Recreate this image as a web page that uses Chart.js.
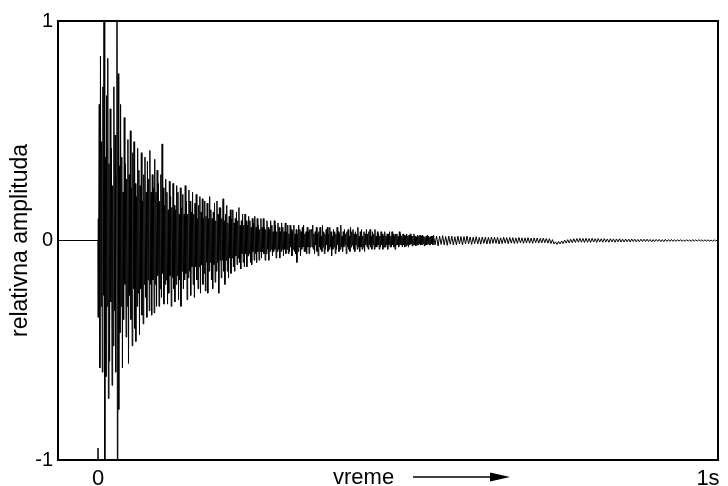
<!DOCTYPE html>
<html>
<head>
<meta charset="utf-8">
<script src="https://cdn.jsdelivr.net/npm/chart.js@4/dist/chart.umd.min.js"></script>
<style>
  html, body { margin: 0; padding: 0; background: #fff; }
  canvas { display: block; }
</style>
</head>
<body>
<canvas id="myChart" width="728" height="486"></canvas>
<script>
// time axis (seconds)
var leadInStart = -0.0656;
var attackStart = 0, attackStep = 0.001;
var decayStart = 0.35, decayStep = 0.001;
var tailStart = 0.55, tailStep = 0.0025;
var xTickValues = [0, 1];
var xTickLabels = ['0', '1s'];
var yTickValues = [-1, 0, 1];
var yTickLabels = ['-1', '0', '1'];

// relative amplitude (spikes past 1 get clipped by the frame)
// 0 - 0.35 s, one value per ms
var attackSamples = [
  0.10, -0.35, 0.62, -0.58, 0.84, -0.30, 0.45, -0.60, 0.70, -0.25,
  2.5, -2.5, 0.38, -0.62, 0.66, -0.30, 0.83, -0.72, 0.35, -0.55,
  0.60, -0.28, 0.42, -0.66, 0.25, -0.48, 0.70, -0.32, 0.48, -0.60,
  0.30, 2.5, -2.5, 0.76, -0.77, 0.34, -0.42, 0.62, -0.30, 0.38,
  -0.58, 0.22, -0.36, 0.56, -0.20, 0.35, -0.44, 0.28, -0.30, 0.46,
  -0.56, 0.30, -0.25, 0.50, -0.36, 0.24, -0.48, 0.40, -0.22, 0.45,
  -0.40, 0.26, -0.46, 0.20, -0.30, 0.42, -0.24, 0.32, -0.43, 0.25,
  -0.22, 0.40, -0.34, 0.18, -0.38, 0.30, -0.20, 0.38, -0.26, 0.22,
  -0.35, 0.36, -0.18, 0.28, -0.32, 0.41, -0.20, 0.22, -0.34, 0.30,
  -0.18, 0.24, -0.33, 0.37, -0.20, 0.22, -0.30, 0.32, -0.16, 0.26,
  -0.30, 0.18, -0.22, 0.30, -0.26, 0.44, -0.15, 0.24, -0.29, 0.16,
  -0.20, 0.28, -0.18, 0.22, -0.29, 0.14, -0.24, 0.27, -0.16, 0.20,
  -0.30, 0.15, -0.17, 0.26, -0.22, 0.16, -0.28, 0.14, -0.20, 0.25,
  -0.16, 0.22, -0.27, 0.12, -0.18, 0.24, -0.30, 0.15, -0.14, 0.21,
  -0.22, 0.12, -0.18, 0.25, -0.15, 0.18, -0.27, 0.12, -0.17, 0.23,
  -0.14, 0.18, -0.25, 0.13, -0.12, 0.22, -0.20, 0.12, -0.26, 0.17,
  -0.12, 0.21, -0.18, 0.10, -0.22, 0.16, -0.12, 0.20, -0.24, 0.13,
  -0.11, 0.19, -0.20, 0.10, -0.15, 0.18, -0.23, 0.11, -0.10, 0.17,
  -0.24, 0.10, -0.14, 0.20, -0.10, 0.14, -0.18, 0.10, -0.22, 0.13,
  -0.11, 0.17, -0.19, 0.09, -0.14, 0.18, -0.10, 0.12, -0.24, 0.15,
  -0.09, 0.15, -0.17, 0.10, -0.09, 0.19, -0.14, 0.09, -0.20, 0.12,
  -0.09, 0.16, -0.14, 0.08, -0.17, 0.11, -0.08, 0.14, -0.15, 0.10,
  -0.08, 0.14, -0.12, 0.08, -0.14, 0.10, -0.07, 0.13, -0.11, 0.09,
  -0.08, 0.15, -0.10, 0.07, -0.13, 0.09, -0.06, 0.12, -0.10, 0.07,
  -0.12, 0.12, -0.06, 0.09, -0.12, 0.07, -0.07, 0.11, -0.06, 0.09,
  -0.10, 0.06, -0.11, 0.10, -0.05, 0.08, -0.09, 0.11, -0.06, 0.06,
  -0.10, 0.10, -0.05, 0.07, -0.09, 0.05, -0.05, 0.10, -0.08, 0.06,
  -0.05, 0.10, -0.06, 0.06, -0.09, 0.05, -0.06, 0.09, -0.04, 0.06,
  -0.09, 0.05, -0.05, 0.09, -0.04, 0.07, -0.07, 0.04, -0.05, 0.09,
  -0.04, 0.07, -0.08, 0.04, -0.05, 0.08, -0.04, 0.06, -0.08, 0.04,
  -0.05, 0.08, -0.04, 0.06, -0.07, 0.04, -0.04, 0.08, -0.06, 0.04,
  -0.04, 0.07, -0.06, 0.03, -0.05, 0.07, -0.03, 0.05, -0.07, 0.04,
  -0.04, 0.07, -0.05, 0.03, -0.06, 0.05, -0.10, 0.03, -0.05, 0.07,
  -0.03, 0.05, -0.07, 0.04, -0.04, 0.06, -0.03, 0.07, -0.05, 0.03,
  -0.05, 0.04, -0.06, 0.06, -0.03, 0.04, -0.06, 0.05, -0.03, 0.05
];

// 0.35 - 0.55 s, one value per ms
var decaySamples = [
  0.05, -0.03, 0.07, -0.04, 0.03, -0.06, 0.04, -0.02, 0.06, -0.05,
  0.03, -0.07, 0.04, -0.03, 0.06, -0.04, 0.02, -0.05, 0.07, -0.03,
  0.04, -0.06, 0.03, -0.04, 0.05, -0.02, 0.06, -0.05, 0.03, -0.04,
  0.06, -0.03, 0.04, -0.07, 0.02, -0.04, 0.05, -0.03, 0.04, -0.06,
  0.03, -0.04, 0.06, -0.02, 0.04, -0.05, 0.03, -0.04, 0.07, -0.03,
  0.02, -0.05, 0.04, -0.03, 0.05, -0.02, 0.03, -0.06, 0.04, -0.03,
  0.05, -0.04, 0.02, -0.05, 0.06, -0.03, 0.04, -0.02, 0.05, -0.04,
  0.03, -0.05, 0.04, -0.02, 0.03, -0.04, 0.06, -0.03, 0.02, -0.05,
  0.04, -0.03, 0.05, -0.04, 0.02, -0.03, 0.04, -0.05, 0.03, -0.02,
  0.05, -0.03, 0.03, -0.04, 0.04, -0.02, 0.05, -0.03, 0.02, -0.04,
  0.04, -0.02, 0.03, -0.04, 0.05, -0.03, 0.02, -0.03, 0.04, -0.02,
  0.03, -0.04, 0.02, -0.03, 0.04, -0.02, 0.03, -0.04, 0.02, -0.03,
  0.04, -0.03, 0.02, -0.02, 0.03, -0.04, 0.03, -0.02, 0.04, -0.03,
  0.02, -0.03, 0.04, -0.02, 0.03, -0.03, 0.02, -0.04, 0.03, -0.02,
  0.03, -0.02, 0.02, -0.03, 0.04, -0.02, 0.03, -0.02, 0.02, -0.03,
  0.03, -0.02, 0.025, -0.03, 0.02, -0.025, 0.03, -0.02, 0.02, -0.03,
  0.025, -0.02, 0.03, -0.015, 0.02, -0.025, 0.02, -0.02, 0.03, -0.02,
  0.02, -0.025, 0.015, -0.02, 0.025, -0.02, 0.02, -0.015, 0.025, -0.02,
  0.02, -0.02, 0.025, -0.015, 0.02, -0.025, 0.015, -0.02, 0.02, -0.02,
  0.025, -0.015, 0.02, -0.02, 0.015, -0.02, 0.02, -0.015, 0.02, -0.02
];

// 0.55 s to the right edge, one value per 2.5 ms
var tailSamples = [
  0.025, -0.02, 0.02, -0.025, 0.02, -0.018, 0.022, -0.02, 0.018, -0.022,
  0.02, -0.017, 0.02, -0.02, 0.017, -0.02, 0.02, -0.016, 0.018, -0.02,
  0.018, -0.016, 0.02, -0.015, 0.016, -0.018, 0.015, -0.014, 0.018, -0.016,
  0.014, -0.017, 0.016, -0.013, 0.015, -0.016, 0.014, -0.015, 0.016, -0.013,
  0.015, -0.013, 0.014, -0.016, 0.012, -0.014, 0.015, -0.012, 0.013, -0.015,
  0.014, -0.012, 0.013, -0.014, 0.012, -0.013, 0.014, -0.011, 0.012, -0.013,
  0.012, -0.011, 0.013, -0.012, 0.011, -0.013, 0.012, -0.01, 0.011, -0.012,
  0.010, -0.011, 0.011, -0.010, 0.009, -0.012, 0.008, -0.014, 0.004, -0.016,
  -0.006, -0.018, -0.004, -0.016, -0.002, -0.014, 0.002, -0.012, 0.004, -0.011,
  0.006, -0.010, 0.008, -0.009, 0.009, -0.008, 0.010, -0.008, 0.009, -0.009,
  0.010, -0.008, 0.009, -0.009, 0.010, -0.007, 0.008, -0.009, 0.009, -0.007,
  0.008, -0.008, 0.009, -0.007, 0.007, -0.008, 0.008, -0.006, 0.007, -0.008,
  0.007, -0.006, 0.008, -0.007, 0.006, -0.007, 0.007, -0.006, 0.006, -0.007,
  0.007, -0.005, 0.006, -0.006, 0.005, -0.006, 0.006, -0.005, 0.006, -0.005,
  0.006, -0.005, 0.005, -0.006, 0.004, -0.005, 0.005, -0.004, 0.005, -0.005,
  0.004, -0.005, 0.005, -0.004, 0.004, -0.004, 0.005, -0.004, 0.004, -0.004,
  0.004, -0.003, 0.004, -0.004, 0.003, -0.004, 0.004, -0.003, 0.003, -0.004,
  0.004, -0.003, 0.003, -0.003, 0.004, -0.003, 0.003, -0.003, 0.003, -0.003,
  0.003, -0.003, 0.002, -0.003, 0.003, -0.002, 0.002
];

var points = [{ x: leadInStart, y: 0 }, { x: 0, y: 0 }];
function addSegment(values, start, step) {
  values.forEach(function (v, i) {
    points.push({ x: start + i * step, y: v });
  });
}
addSegment(attackSamples, attackStart, attackStep);
addSegment(decaySamples, decayStart, decayStep);
addSegment(tailSamples, tailStart, tailStep);

var fontFamily = '"Liberation Sans", Arial, sans-serif';

// frame, inward tick at 0 and the "vreme ->" caption
var decorations = {
  id: 'decorations',
  afterDraw: function (chart) {
    var ctx = chart.ctx;
    var a = chart.chartArea;
    var x0 = chart.scales.x.getPixelForValue(0);
    ctx.save();
    ctx.strokeStyle = '#000';
    ctx.lineWidth = 2;
    ctx.strokeRect(a.left, a.top, a.right - a.left, a.bottom - a.top);

    ctx.lineWidth = 1.5;
    ctx.beginPath();
    ctx.moveTo(x0, a.bottom - 12);
    ctx.lineTo(x0, a.bottom);
    ctx.stroke();

    ctx.fillStyle = '#000';
    ctx.font = '22px ' + fontFamily;
    ctx.textBaseline = 'alphabetic';
    ctx.textAlign = 'left';
    ctx.fillText('vreme', 333, 484);

    ctx.lineWidth = 1.5;
    ctx.beginPath();
    ctx.moveTo(413, 477);
    ctx.lineTo(494, 477);
    ctx.stroke();
    ctx.beginPath();
    ctx.moveTo(490, 472.5);
    ctx.lineTo(510, 477);
    ctx.lineTo(490, 481.5);
    ctx.closePath();
    ctx.fill();
    ctx.restore();
  }
};

var ctx = document.getElementById('myChart').getContext('2d');
var chart = new Chart(ctx, {
  type: 'line',
  data: {
    datasets: [
      {
        data: points,
        borderColor: '#000',
        borderWidth: 1,
        pointRadius: 0,
        tension: 0,
        fill: false,
      },
    ],
  },
  options: {
    responsive: false,
    animation: false,
    devicePixelRatio: 1,
    layout: { padding: { top: 21, right: 10, left: 0, bottom: 0 } },
    plugins: { legend: { display: false }, tooltip: { enabled: false } },
    scales: {
      x: {
        type: 'linear',
        min: leadInStart,
        max: 1.0164,
        grid: { display: false, drawTicks: false },
        border: { display: false },
        afterBuildTicks: function (scale) {
          scale.ticks = xTickValues.map(function (v) { return { value: v }; });
        },
        afterFit: function (scale) { scale.height = 26; },
        ticks: {
          color: '#000',
          padding: 6,
          maxRotation: 0,
          autoSkip: false,
          font: { family: fontFamily, size: 22 },
          callback: function (v) { return xTickLabels[xTickValues.indexOf(v)]; },
        },
      },
      y: {
        min: -1,
        max: 1,
        grid: { display: false, drawTicks: false },
        border: { display: false },
        afterBuildTicks: function (scale) {
          scale.ticks = yTickValues.map(function (v) { return { value: v }; });
        },
        afterFit: function (scale) { scale.width = 58; },
        ticks: {
          color: '#000',
          padding: 5,
          font: { family: fontFamily, size: 20 },
          callback: function (v) { return yTickLabels[yTickValues.indexOf(v)]; },
        },
        title: {
          display: true,
          text: 'relativna amplituda',
          color: '#000',
          padding: { top: 7, bottom: 0 },
          font: { family: fontFamily, size: 23 },
        },
      },
    },
  },
  plugins: [decorations],
});
</script>
</body>
</html>
